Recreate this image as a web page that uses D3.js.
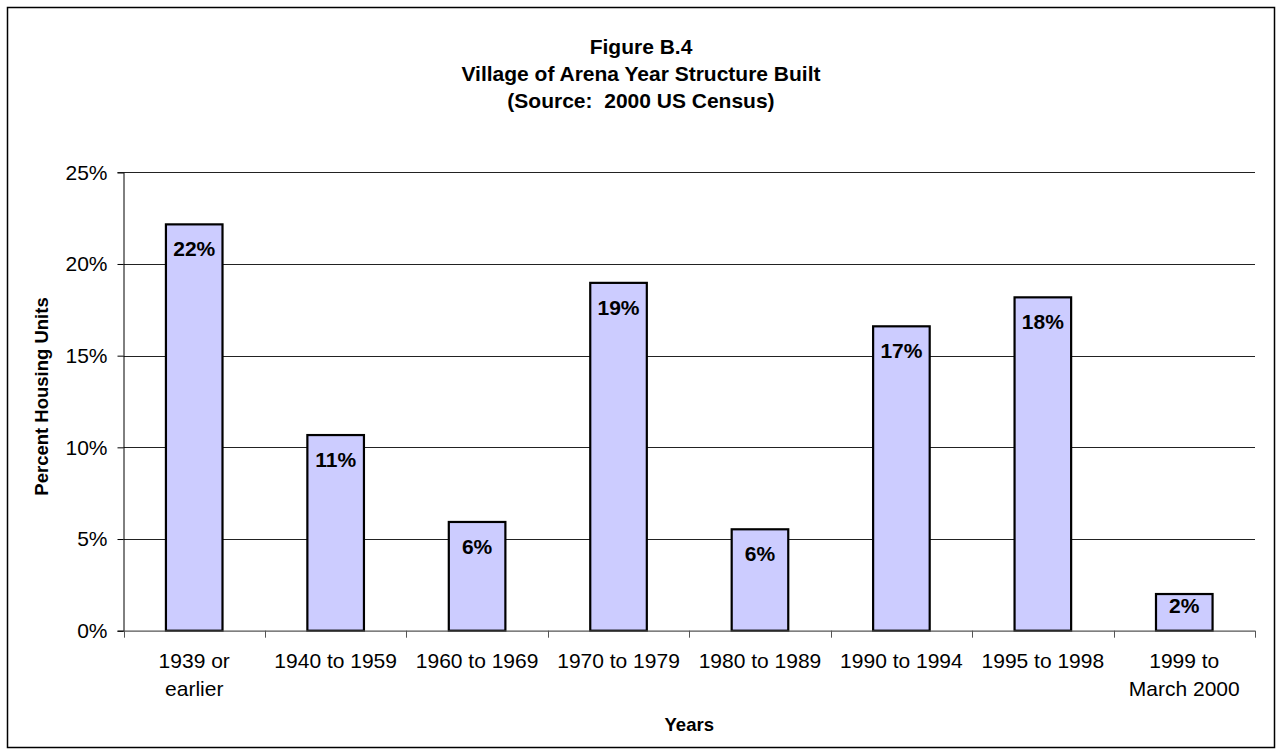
<!DOCTYPE html>
<html>
<head>
<meta charset="utf-8">
<script src="https://cdn.jsdelivr.net/npm/d3@7"></script>
<style>
  body { margin: 0; background: #fff; }
  svg { display: block; font-family: "Liberation Sans", Arial, sans-serif; }
  text { white-space: pre; }
</style>
</head>
<body>
<svg id="chart" width="1282" height="755"></svg>
<script>
// chart values
var categories = ["1939 or earlier", "1940 to 1959", "1960 to 1969", "1970 to 1979",
                  "1980 to 1989", "1990 to 1994", "1995 to 1998", "1999 to March 2000"];
var catLines = [["1939 or", "earlier"], ["1940 to 1959"], ["1960 to 1969"], ["1970 to 1979"],
                ["1980 to 1989"], ["1990 to 1994"], ["1995 to 1998"], ["1999 to", "March 2000"]];
var percents = [22.16, 10.67, 5.93, 18.97, 5.53, 16.6, 18.18, 2.0];
var yTicks = [0, 5, 10, 15, 20, 25];
var titleLines = ["Figure B.4", "Village of Arena Year Structure Built", "(Source:  2000 US Census)"];

var svg = d3.select("#chart");

// outer frame
svg.append("rect")
  .attr("x", 7.5).attr("y", 7.5)
  .attr("width", 1267).attr("height", 740)
  .attr("fill", "#fff").attr("stroke", "#000").attr("stroke-width", 1.5);

var plotLeft = 123.5, plotRight = 1255, plotTop = 172.3, plotBottom = 630.7;

var x = d3.scaleBand()
  .domain(categories)
  .range([plotLeft, plotRight])
  .paddingInner(0.6)
  .paddingOuter(0.3);

var y = d3.scaleLinear()
  .domain([0, 25])
  .range([plotBottom, plotTop]);

// title
svg.append("g").selectAll("text")
  .data(titleLines)
  .enter().append("text")
  .attr("x", 641)
  .attr("y", function(d, i) { return 54 + i * 27; })
  .attr("text-anchor", "middle")
  .style("font-size", "21px")
  .style("font-weight", "bold")
  .text(function(d) { return d; });

// gridlines
svg.append("g").selectAll("line")
  .data(yTicks.filter(function(t) { return t > 0; }))
  .enter().append("line")
  .attr("x1", plotLeft).attr("x2", plotRight)
  .attr("y1", function(d) { return Math.round(y(d)) + 0.5; })
  .attr("y2", function(d) { return Math.round(y(d)) + 0.5; })
  .attr("stroke", "#222").attr("stroke-width", 1);

// y axis
var yAxis = svg.append("g")
  .attr("transform", "translate(" + plotLeft + ",0)")
  .call(d3.axisLeft(y).tickValues(yTicks).tickSize(6).tickPadding(10)
    .tickFormat(function(d) { return d + "%"; }));
yAxis.select(".domain").attr("stroke", "#000");
yAxis.selectAll(".tick line").attr("stroke", "#000");
yAxis.selectAll("text")
  .style("font-size", "21px")
  .style("font-family", "'Liberation Sans', Arial, sans-serif")
  .attr("fill", "#000");

// bars
svg.append("g").selectAll("rect")
  .data(percents)
  .enter().append("rect")
  .attr("x", function(d, i) { return x(categories[i]); })
  .attr("y", function(d) { return y(d); })
  .attr("width", x.bandwidth())
  .attr("height", function(d) { return y(0) - y(d); })
  .attr("fill", "#CCCCFF")
  .attr("stroke", "#000")
  .attr("stroke-width", 2.2);

// value labels
svg.append("g").selectAll("text")
  .data(percents)
  .enter().append("text")
  .attr("x", function(d, i) { return x(categories[i]) + x.bandwidth() / 2; })
  .attr("y", function(d) {
    var h = y(0) - y(d);
    return y(d) + Math.min(32, h * 0.52);
  })
  .attr("text-anchor", "middle")
  .style("font-size", "21px")
  .style("font-weight", "bold")
  .text(function(d) { return Math.round(d) + "%"; });

// x axis
var xAxisG = svg.append("g");
xAxisG.append("line")
  .attr("x1", plotLeft).attr("x2", plotRight)
  .attr("y1", plotBottom + 0.5).attr("y2", plotBottom + 0.5)
  .attr("stroke", "#555").attr("stroke-width", 1.2);
var step = x.step();
xAxisG.selectAll(".xtick")
  .data(d3.range(categories.length + 1))
  .enter().append("line")
  .attr("class", "xtick")
  .attr("x1", function(i) { return Math.round(plotLeft + i * step) + 0.5; })
  .attr("x2", function(i) { return Math.round(plotLeft + i * step) + 0.5; })
  .attr("y1", plotBottom).attr("y2", plotBottom + 7)
  .attr("stroke", "#555");

var labels = xAxisG.selectAll(".xlabel")
  .data(catLines)
  .enter().append("text")
  .attr("class", "xlabel")
  .attr("text-anchor", "middle")
  .style("font-size", "21px");
labels.selectAll("tspan")
  .data(function(d, i) { return d.map(function(s) { return { s: s, i: i }; }); })
  .enter().append("tspan")
  .attr("x", function(d) { return x(categories[d.i]) + x.bandwidth() / 2; })
  .attr("y", function(d, j) { return 668 + j * 27.5; })
  .text(function(d) { return d.s; });

// axis titles
svg.append("text")
  .attr("x", (plotLeft + plotRight) / 2)
  .attr("y", 731)
  .attr("text-anchor", "middle")
  .style("font-size", "18.5px")
  .style("font-weight", "bold")
  .text("Years");

svg.append("text")
  .attr("transform", "translate(48," + 396.5 + ") rotate(-90)")
  .attr("text-anchor", "middle")
  .style("font-size", "18.5px")
  .style("font-weight", "bold")
  .text("Percent Housing Units");
</script>
</body>
</html>
